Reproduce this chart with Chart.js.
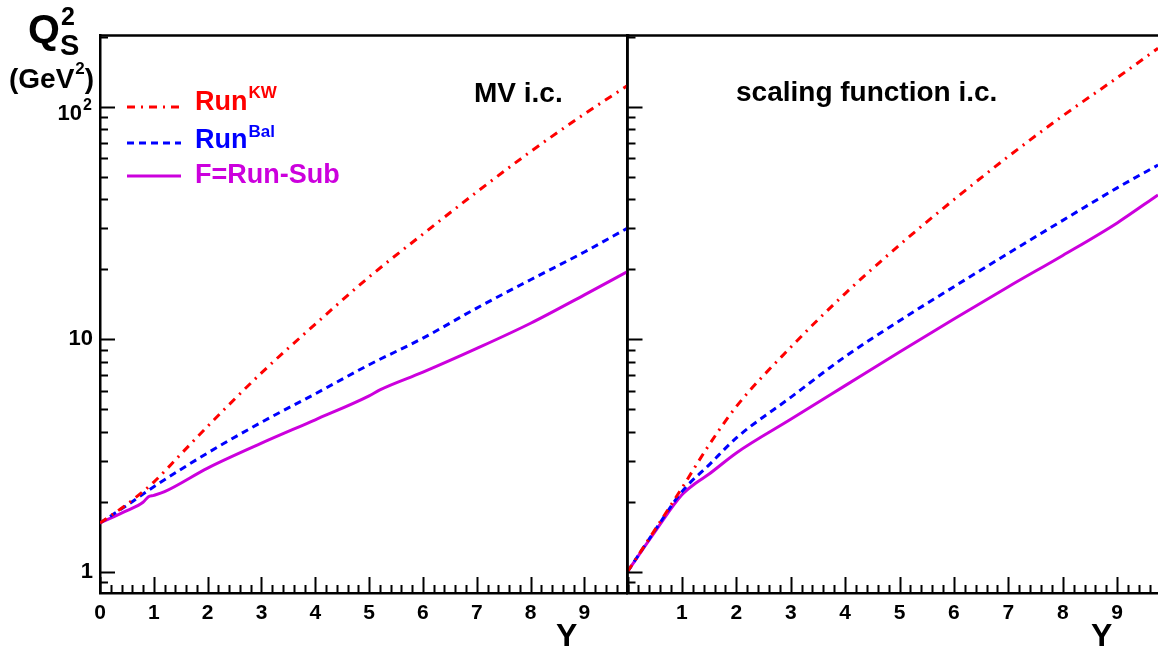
<!DOCTYPE html>
<html><head><meta charset="utf-8">
<script src="https://cdn.jsdelivr.net/npm/chart.js@4.4.0/dist/chart.umd.min.js"></script>
<style>
html,body{margin:0;padding:0;background:#fff;}
#wrap{position:relative;width:1158px;height:647px;overflow:hidden;background:#fff;}
canvas{position:absolute;top:0;}
#cR{left:600px;}
#cL{left:0;}
</style></head><body>
<div id="wrap"><canvas id="cR" width="558" height="647"></canvas><canvas id="cL" width="640" height="647"></canvas></div>
<script>
// ---------- data ----------
// Left panel: MV i.c.
const mvKW_Y  = [0, 0.5, 1, 1.5, 2, 3, 4, 5, 6, 7, 8, 9, 9.8];
const mvKW    = [1.62, 1.95, 2.43, 3.20, 4.22, 7.16, 11.6, 18.5, 28.3, 42.9, 64.0, 92.9, 123];
const mvBal_Y = [0, 0.5, 1, 2, 3, 4, 5, 6, 7, 8, 9, 9.8];
const mvBal   = [1.62, 1.93, 2.32, 3.24, 4.39, 5.82, 7.76, 10.1, 13.6, 18.0, 23.7, 30.0];
const mvSub_Y = [0, 0.5, 0.8, 0.9, 1, 1.2, 2, 3, 4, 5, 5.2, 6, 7, 8, 9, 9.8];
const mvSub   = [1.62, 1.83, 1.99, 2.10, 2.13, 2.21, 2.79, 3.57, 4.50, 5.70, 6.05, 7.21, 9.12, 11.7, 15.5, 19.5];
// Right panel: scaling function i.c.
const scKW_Y  = [0, 0.5, 1, 1.5, 2, 3, 4, 5, 6, 7, 8, 9, 9.75];
const scKW    = [1.00, 1.51, 2.29, 3.51, 5.13, 9.23, 15.7, 25.4, 39.8, 61.0, 91.2, 133, 178];
const scBal_Y = [0, 0.5, 1, 1.5, 2, 3, 4, 5, 6, 7, 8, 9, 9.75];
const scBal   = [1.00, 1.50, 2.21, 2.88, 3.76, 5.62, 8.41, 12.0, 16.8, 23.4, 32.4, 44.7, 56.0];
const scSub_Y = [0, 0.5, 1, 1.25, 1.5, 2, 3, 4, 5, 6, 7, 8, 9, 9.75];
const scSub   = [1.00, 1.48, 2.14, 2.40, 2.63, 3.24, 4.52, 6.31, 8.81, 12.2, 16.8, 22.9, 31.6, 41.7];

const xTicksLeft  = [0, 1, 2, 3, 4, 5, 6, 7, 8, 9];
const xLabelsLeft = ['0', '1', '2', '3', '4', '5', '6', '7', '8', '9'];
const xTicksRight  = [0, 1, 2, 3, 4, 5, 6, 7, 8, 9];
const xLabelsRight = ['', '1', '2', '3', '4', '5', '6', '7', '8', '9'];
const yTicks    = [1, 10, 100];
const yLabels   = ['1', '10', ''];      // plain labels drawn by the axis
const yExpLabel = ['10', '2'];          // 10^2 drawn as base + superscript

const legendMain = ['Run', 'Run', 'F=Run-Sub'];
const legendSup  = ['KW', 'Bal', ''];
const panelTitles = ['MV i.c.', 'scaling function i.c.'];
const xTitle = 'Y';

// ---------- styles ----------
const RED = '#ff0000', BLUE = '#0000ff', MAG = '#cc00dd';
const FONT = '"Liberation Sans", Arial, Helvetica, sans-serif';
const pts = (xs, ys) => xs.map((x, i) => ({x: x, y: ys[i]}));

function makeDatasets(kwY, kw, balY, bal, subY, sub) {
  return [
    {data: pts(kwY, kw), borderColor: RED, borderWidth: 3, borderDash: [8, 6, 2, 6], pointRadius: 0, fill: false, cubicInterpolationMode: 'monotone'},
    {data: pts(balY, bal), borderColor: BLUE, borderWidth: 3, borderDash: [7, 5], pointRadius: 0, fill: false, cubicInterpolationMode: 'monotone'},
    {data: pts(subY, sub), borderColor: MAG, borderWidth: 3, pointRadius: 0, fill: false, cubicInterpolationMode: 'monotone'}
  ];
}

const inwardTicks = {
  id: 'inwardTicks',
  afterDraw(chart) {
    const {ctx, chartArea: a, scales: {x, y}} = chart;
    ctx.save();
    ctx.strokeStyle = '#000';
    ctx.lineWidth = 2;
    ctx.beginPath();
    const n = Math.floor(x.max * 5 + 1e-6);
    for (let i = 0; i <= n; i++) {
      const px = Math.round(x.getPixelForValue(i / 5)) + 0.5;
      const L = (i % 5 === 0) ? 16 : 8;
      ctx.moveTo(px, a.bottom); ctx.lineTo(px, a.bottom - L);
    }
    [0.1, 1, 10, 100].forEach(d => {
      for (let m = 1; m <= 9; m++) {
        const v = m * d;
        if (v < y.min || v > y.max) continue;
        const py = Math.round(y.getPixelForValue(v)) + 0.5;
        const L = (m === 1) ? 15 : 8;
        ctx.moveTo(a.left, py); ctx.lineTo(a.left + L, py);
      }
    });
    ctx.stroke();
    ctx.lineWidth = 2.5;
    ctx.beginPath();
    ctx.moveTo(a.left, a.top); ctx.lineTo(a.right + 2, a.top);
    if (chart.canvas.id === 'cL') { ctx.moveTo(a.right, a.top); ctx.lineTo(a.right, a.bottom); }
    ctx.stroke();
    ctx.restore();
  }
};

const textsLeft = {
  id: 'textsLeft',
  afterDraw(chart) {
    if (chart.canvas.id !== 'cL') return;
    const ctx = chart.ctx;
    const y = chart.scales.y;
    ctx.save();
    ctx.fillStyle = '#000';
    ctx.textBaseline = 'alphabetic';
    ctx.textAlign = 'left';
    ctx.font = 'bold 41px ' + FONT; ctx.fillText('Q', 28, 43);
    ctx.font = 'bold 25px ' + FONT; ctx.fillText('2', 61, 25);
    ctx.font = 'bold 29px ' + FONT; ctx.fillText('S', 60, 55);
    ctx.font = 'bold 28px ' + FONT;
    let gx = 9; ctx.fillText('(GeV', gx, 88); gx += ctx.measureText('(GeV').width + 1;
    ctx.font = 'bold 17px ' + FONT; ctx.fillText('2', gx, 74); gx += ctx.measureText('2').width;
    ctx.font = 'bold 28px ' + FONT; ctx.fillText(')', gx, 88);
    // 10^2 tick label
    const p100 = y.getPixelForValue(100);
    ctx.font = 'bold 22px ' + FONT; ctx.textAlign = 'right';
    ctx.fillText(yExpLabel[0], 82, p100 + 13);
    ctx.font = 'bold 16px ' + FONT; ctx.textAlign = 'left';
    ctx.fillText(yExpLabel[1], 83, p100 + 3);
    ctx.font = 'bold 28px ' + FONT; ctx.fillText(panelTitles[0], 474, 102);
    ctx.font = 'bold 32px ' + FONT; ctx.fillText(xTitle, 556, 646);
    // legend
    const rows = [107, 143, 176];
    const base = [110, 148, 183];
    const supBase = [98, 137, 0];
    chart.data.datasets.forEach((ds, i) => {
      ctx.save();
      ctx.strokeStyle = ds.borderColor; ctx.lineWidth = 3;
      ctx.setLineDash(ds.borderDash || []);
      ctx.beginPath(); ctx.moveTo(127, rows[i]); ctx.lineTo(181, rows[i]); ctx.stroke();
      ctx.restore();
      ctx.fillStyle = ds.borderColor;
      ctx.font = 'bold 27px ' + FONT;
      ctx.fillText(legendMain[i], 195, base[i]);
      if (legendSup[i]) {
        const w = ctx.measureText(legendMain[i]).width;
        ctx.font = 'bold 17px ' + FONT;
        ctx.fillText(legendSup[i], 195 + w + 1, supBase[i]);
      }
    });
    ctx.restore();
  }
};

const textsRight = {
  id: 'textsRight',
  afterDraw(chart) {
    if (chart.canvas.id !== 'cR') return;
    const ctx = chart.ctx;
    ctx.save();
    ctx.fillStyle = '#000';
    ctx.textAlign = 'left';
    ctx.font = 'bold 28px ' + FONT; ctx.fillText(panelTitles[1], 736 - 600, 101);
    ctx.font = 'bold 32px ' + FONT; ctx.fillText(xTitle, 1091 - 600, 646);
    ctx.restore();
  }
};

function makeChart(id, datasets, xmax, xt, xl, showY, yWidth, padRight) {
  return new Chart(document.getElementById(id), {
    type: 'line',
    data: {datasets: datasets},
    options: {
      responsive: false, animation: false, devicePixelRatio: 1,
      layout: {padding: {top: 35.5, right: padRight, left: 0, bottom: 0}},
      plugins: {legend: {display: false}, tooltip: {enabled: false}},
      scales: {
        x: {
          type: 'linear', min: 0, max: xmax,
          grid: {display: false, drawTicks: false},
          border: {display: true, color: '#000', width: 2.5},
          ticks: {
            color: '#000', font: {family: FONT, weight: 'bold', size: 21}, padding: 8,
            maxRotation: 0, autoSkip: false,
            callback: (v, i) => xl[i]
          },
          afterBuildTicks: s => { s.ticks = xt.map(v => ({value: v})); },
          afterFit: s => { s.height = 54; }
        },
        y: {
          type: 'logarithmic', min: 0.81, max: 202,
          grid: {display: false, drawTicks: false},
          border: {display: true, color: '#000', width: 2.5},
          ticks: {
            color: '#000', font: {family: FONT, weight: 'bold', size: 22}, padding: 7,
            autoSkip: false,
            callback: (v, i) => showY ? yLabels[i] : ''
          },
          afterBuildTicks: s => { s.ticks = yTicks.map(v => ({value: v})); },
          afterFit: s => { s.width = yWidth; }
        }
      }
    },
    plugins: [inwardTicks, textsLeft, textsRight]
  });
}

makeChart('cR', makeDatasets(scKW_Y, scKW, scBal_Y, scBal, scSub_Y, scSub), 9.75, xTicksRight, xLabelsRight, false, 27.5, 0);
makeChart('cL', makeDatasets(mvKW_Y, mvKW, mvBal_Y, mvBal, mvSub_Y, mvSub), 9.8, xTicksLeft, xLabelsLeft, true, 100, 12.5);
</script>
</body></html>
